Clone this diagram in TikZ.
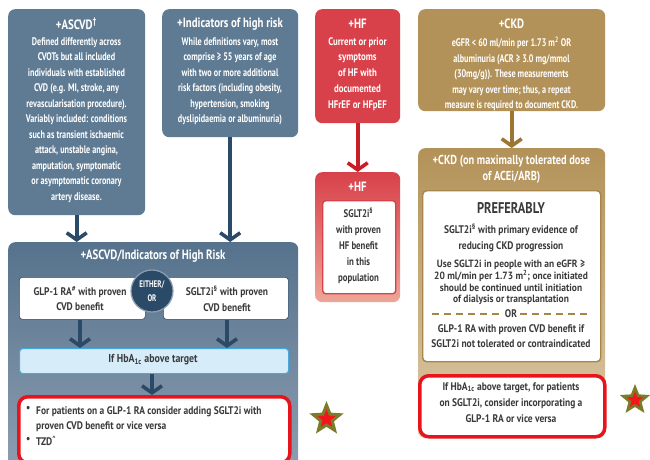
\documentclass[tikz,border=0pt]{standalone}
\usepackage{fontspec}
\setmainfont{PT Sans}[FakeStretch=0.74]
\newfontfamily\widefont{PT Sans}[FakeStretch=0.86]
\newfontfamily\headfont{PT Sans}[FakeStretch=0.8]
\newfontfamily\notefont{PT Sans}[FakeStretch=0.9]
\usetikzlibrary{arrows.meta,shapes.geometric}

\definecolor{slate}{HTML}{5F7B93}
\definecolor{slatetop}{HTML}{56728C}
\definecolor{slatebot}{HTML}{8D9EB1}
\definecolor{navy}{HTML}{2B4A68}
\definecolor{hfred}{HTML}{D8414A}
\definecolor{hfpink}{HTML}{EDA697}
\definecolor{hfarrow}{HTML}{C91E26}
\definecolor{tan}{HTML}{B39259}
\definecolor{tanlight}{HTML}{DCC9A6}
\definecolor{tanarrow}{HTML}{9B7634}
\definecolor{tanline}{HTML}{A8864A}
\definecolor{dgrey}{HTML}{3A3A3A}
\definecolor{paleblue}{HTML}{D6ECF9}
\definecolor{skyline}{HTML}{45A9DE}
\definecolor{alertred}{HTML}{E8141C}
\definecolor{olive}{HTML}{7B7B2A}
\definecolor{starred}{HTML}{F5141C}

\newcommand{\bodysize}{\fontsize{11}{15.5}\selectfont\bfseries}
\newcommand{\greysize}{\widefont\fontsize{11}{15.5}\selectfont\bfseries}
\newcommand{\notesize}{\notefont\fontsize{10.5}{11.7}\selectfont\bfseries}
\newcommand{\titlesize}{\headfont\fontsize{13.5}{16}\selectfont\bfseries}

\tikzset{
  box/.style={rounded corners=7pt, anchor=north west, inner sep=0pt, draw=none},
  wtitle/.style={text=white, anchor=center, inner sep=0pt, font=\titlesize},
  wbody/.style={text=white, align=center, anchor=north, inner sep=0pt, font=\bodysize},
  gbody/.style={text=dgrey, align=center, anchor=north, inner sep=0pt, font=\greysize},
  flow/.style={line width=3.6pt, -{Straight Barb[length=7pt,width=20pt]}},
  alertbox/.style={box, fill=white, draw=alertred, line width=3.5pt, rounded corners=9pt},
  starouter/.style={star, star points=5, star point ratio=2.3, inner sep=0pt, fill=olive, draw=none},
  starinner/.style={star, star points=5, star point ratio=2.3, inner sep=0pt, fill=starred, draw=none}
}

\begin{document}
\begin{tikzpicture}[x=1pt,y=-1pt]
\useasboundingbox (0,0) rectangle (650,460);
\clip (0,0) rectangle (650,460);

% ---------- ASCVD ----------
\node[box, fill=slate, minimum width=137, minimum height=206] (ascvd) at (8,9) {};
\node[wtitle] (ascvdT) at (76.5,24) {+ASCVD\textsuperscript{†}};
\node[wbody] (ascvdB) at (76.5,37) {Defined differently across\\CVOTs but all included\\individuals with established\\CVD (e.g. MI, stroke, any\\revascularisation procedure).\\Variably included: conditions\\such as transient ischaemic\\attack, unstable angina,\\amputation, symptomatic\\or asymptomatic coronary\\artery disease.};

% ---------- Indicators of high risk ----------
\node[box, fill=slate, minimum width=136, minimum height=128] (risk) at (162,9) {};
\node[wtitle] (riskT) at (230,24) {+Indicators of high risk};
\node[wbody] (riskB) at (230,37) {While definitions vary, most\\comprise ≥ 55 years of age\\with two or more additional\\risk factors (including obesity,\\hypertension, smoking\\dyslipidaemia or albuminuria)};

% ---------- HF ----------
\node[box, fill=hfred, minimum width=85, minimum height=114] (hf) at (315,9) {};
\node[wtitle] (hfT) at (357.5,24) {+HF};
\node[wbody, font=\headfont\fontsize{11}{15.8}\selectfont\bfseries] (hfB) at (357.5,37) {Current or prior\\symptoms\\of HF with\\documented\\HFrEF or HFpEF};

\node[box, top color=hfred, bottom color=hfpink, minimum width=85, minimum height=130] (hf2) at (315,172) {};
\node[wtitle] (hf2T) at (357.5,187) {+HF};
\node[box, fill=white, draw=hfred, line width=1.4pt, rounded corners=3pt, minimum width=73, minimum height=93] (hfin) at (322,200) {};
\node[gbody, font=\headfont\fontsize{11}{16}\selectfont\bfseries] (hfinT) at (358.5,208) {SGLT2i\textsuperscript{§}\\with proven\\HF benefit\\in this\\population};

% ---------- CKD ----------
\node[box, fill=tan, minimum width=187, minimum height=102] (ckd) at (418,9) {};
\node[wtitle] (ckdT) at (511.5,24) {+CKD};
\node[wbody] (ckdB) at (511.5,37) {eGFR < 60 ml/min per 1.73 m\textsuperscript{2} OR\\albuminuria (ACR ≥ 3.0 mg/mmol\\(30mg/g)). These measurements\\may vary over time; thus, a repeat\\measure is required to document CKD.};

\node[box, top color=tan, bottom color=tanlight, minimum width=187, minimum height=290] (ckd2) at (418,148) {};
\node[wtitle, anchor=north, align=center, font=\headfont\fontsize{13}{16}\selectfont\bfseries] (ckd2T) at (511.5,155) {+CKD (on maximally tolerated dose\\of ACEi/ARB)};
\node[box, fill=white, draw=tanline, line width=1.4pt, rounded corners=4pt, minimum width=178, minimum height=171] (ckdin) at (422,190) {};
\node[gbody, anchor=center, font=\headfont\fontsize{15.5}{16}\selectfont\bfseries] (pref) at (511,208) {PREFERABLY};
\node[gbody] (prefA) at (511,224) {SGLT2i\textsuperscript{§} with primary evidence of\\reducing CKD progression};
\node[gbody, font=\notesize] (prefB) at (511,260) {Use SGLT2i in people with an eGFR ≥\\20 ml/min per 1.73 m\textsuperscript{2}; once initiated\\should be continued until initiation\\of dialysis or transplantation};
\node[gbody, anchor=center, inner sep=3pt] (orword) at (511,314) {OR};
\coordinate (dashL) at (432,314);
\coordinate (dashR) at (591,314);
\draw[tanline, line width=1.4pt, dash pattern=on 7pt off 5pt] (dashL) -- (orword.west);
\draw[tanline, line width=1.4pt, dash pattern=on 7pt off 5pt] (orword.east) -- (dashR);
\node[gbody] (prefC) at (511,324) {GLP-1 RA with proven CVD benefit if\\SGLT2i not tolerated or contraindicated};

\node[alertbox, minimum width=185, minimum height=61] (ckdalert) at (418,374) {};
\node[gbody, font=\widefont\fontsize{11}{16}\selectfont\bfseries] (ckdalertT) at (511,382) {If HbA\textsubscript{1c} above target, for patients\\on SGLT2i, consider incorporating a\\GLP-1 RA or vice versa};

% ---------- combined ASCVD / high risk ----------
\node[box, top color=slatetop, bottom color=slatebot, minimum width=290, minimum height=230] (combo) at (8,242) {};
\node[wtitle] (comboT) at (153,256) {+ASCVD/Indicators of High Risk};
\node[box, fill=white, draw=navy, line width=0.6pt, rounded corners=3pt, minimum width=126, minimum height=42] (glp) at (19,277) {};
\node[box, fill=white, draw=navy, line width=0.6pt, rounded corners=3pt, minimum width=125, minimum height=42] (sglt) at (163,277) {};
\node[gbody] (glpT) at (80,286) {GLP-1 RA\textsuperscript{\#} with proven\\CVD benefit};
\node[gbody] (sgltT) at (227,286) {SGLT2i\textsuperscript{§} with proven\\CVD benefit};
\node[circle, fill=navy, draw=slatebot, line width=1.2pt, minimum size=42pt, inner sep=0pt,
      text=white, align=center, font=\fontsize{9.5}{14}\selectfont\bfseries] (either) at (152,291) {EITHER/\\OR};
\node[box, fill=paleblue, draw=skyline, line width=1.2pt, rounded corners=3pt, minimum width=269, minimum height=25] (hba) at (19,348) {};
\node[text=dgrey, inner sep=0pt, font=\widefont\fontsize{11.5}{15.5}\selectfont\bfseries] (hbaT) at (153,360) {If HbA\textsubscript{1c} above target};
\node[alertbox, minimum width=271, minimum height=66] (comboalert) at (17,395) {};
\node[text=dgrey, anchor=north west, inner sep=0pt, align=left, font=\greysize] (bullets) at (26,406)
  {•\\ \\•};
\node[text=dgrey, anchor=north west, inner sep=0pt, align=left, font=\greysize] (bulletT) at (36,406)
  {For patients on a GLP-1 RA consider adding SGLT2i with\\proven CVD benefit or vice versa\\TZD\textsuperscript{\textasciicircum}};

% ---------- connectors ----------
\draw[flow, navy] (ascvd.south) -- (ascvd.south |- combo.north);
\draw[flow, navy] (risk.south) -- (risk.south |- combo.north);
\draw[flow, hfarrow] (hf.south) -- (hf2.north);
\draw[flow, tanarrow] (ckd.south) -- (ckd2.north);
\draw[flow, navy] (glp.south -| glpT) -- (hba.north -| glpT);
\draw[flow, navy] (sglt.south -| sgltT) -- (hba.north -| sgltT);
\draw[flow, navy] (hba.south -| either) -- (comboalert.north -| either);

% ---------- stars ----------
\node[starouter, minimum size=36pt] (star1) at (326.5,419) {};
\node[starinner, minimum size=19pt] (star1in) at (star1.center) {};
\node[starouter, minimum size=32pt] (star2) at (635,400) {};
\node[starinner, minimum size=17pt] (star2in) at (star2.center) {};
\end{tikzpicture}
\end{document}
